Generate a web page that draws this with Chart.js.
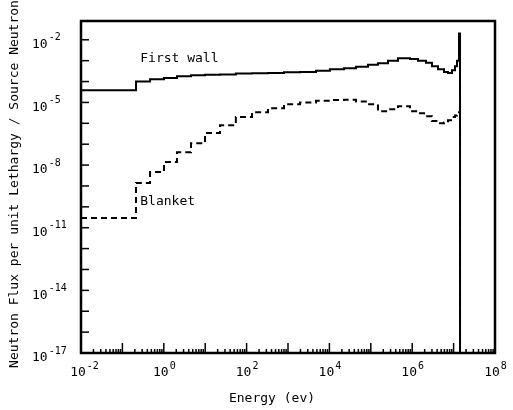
<!DOCTYPE html>
<html>
<head>
<meta charset="utf-8">
<script src="https://cdn.jsdelivr.net/npm/chart.js@4.4.1/dist/chart.umd.min.js"></script>
<style>
  html, body { margin: 0; padding: 0; background: #fff; }
  canvas { display: block; }
</style>
</head>
<body>
<canvas id="fluxChart" width="513" height="410"></canvas>
<script>
// group boundaries (eV), shared by both curves
const energyEdges = [0.01, 0.213, 0.465, 1.01, 2.08, 4.54, 9.9, 22.8, 55, 135, 329, 800,
  1950, 4740, 10300, 22500, 44000, 85600, 149000, 260000, 454000, 885000, 1.38e6,
  2.15e6, 3.0e6, 4.2e6, 5.86e6, 7.3e6, 9.15e6, 1.08e7, 1.21e7, 1.35e7, 1.43e7];

// flux per unit lethargy in each group
const firstWallFlux = [3.8e-5, 1.0e-4, 1.3e-4, 1.5e-4, 1.8e-4, 2.0e-4, 2.1e-4, 2.2e-4,
  2.4e-4, 2.5e-4, 2.6e-4, 2.8e-4, 2.9e-4, 3.3e-4, 3.9e-4, 4.3e-4, 5.1e-4, 6.4e-4,
  7.5e-4, 9.9e-4, 1.3e-3, 1.2e-3, 1.0e-3, 7.9e-4, 5.4e-4, 3.9e-4, 2.9e-4, 2.6e-4,
  3.5e-4, 5.4e-4, 1.0e-3, 2.0e-2];
const blanketFlux = [2.9e-11, 1.4e-9, 4.6e-9, 1.4e-8, 4.1e-8, 1.1e-7, 3.4e-7, 8.1e-7,
  2.0e-6, 3.4e-6, 5.3e-6, 8.2e-6, 1.0e-5, 1.2e-5, 1.3e-5, 1.35e-5, 1.1e-5, 8.2e-6,
  3.8e-6, 4.7e-6, 6.6e-6, 3.8e-6, 3.0e-6, 2.2e-6, 1.3e-6, 1.0e-6, 1.1e-6, 1.4e-6,
  2.0e-6, 2.4e-6, 3.0e-6, 3.4e-6];

const xDecades = [-2, -1, 0, 1, 2, 3, 4, 5, 6, 7, 8];
const xLabelDecades = [-2, 0, 2, 4, 6, 8];
const yDecades = [-17, -16, -15, -14, -13, -12, -11, -10, -9, -8, -7, -6, -5, -4, -3, -2];
const yLabelDecades = [-17, -14, -11, -8, -5, -2];
const yMin = 1e-17;
const yMax = Math.pow(10, -1.1);

const mono = '"DejaVu Sans Mono", "Liberation Mono", monospace';

function toSteps(values) {
  const pts = values.map((v, i) => ({ x: energyEdges[i], y: v }));
  pts.push({ x: energyEdges[energyEdges.length - 1], y: yMin });
  return pts;
}

function drawPower(ctx, exp, x, y, align) {
  ctx.font = '13px ' + mono;
  const base = '10';
  const ex = String(exp).replace('-', '-');
  const wBase = ctx.measureText(base).width;
  ctx.font = '10px ' + mono;
  const wExp = ctx.measureText(ex).width;
  let left = align === 'left' ? x : x - wBase / 2;
  ctx.textBaseline = 'middle';
  ctx.textAlign = 'left';
  ctx.font = '13px ' + mono;
  ctx.fillText(base, left, y);
  ctx.font = '10px ' + mono;
  ctx.fillText(ex, left + wBase + 1, y - 7);
}

const framePlugin = {
  id: 'framePlugin',
  afterDraw(chart) {
    const ctx = chart.ctx;
    const a = chart.chartArea;
    const xs = chart.scales.x;
    const ys = chart.scales.y;
    ctx.save();
    ctx.strokeStyle = '#000';
    ctx.fillStyle = '#000';

    // x ticks, inside
    ctx.lineWidth = 1.5;
    xDecades.forEach(d => {
      for (let m = 1; m < 10; m++) {
        if (d === 8 && m > 1) break;
        const px = xs.getPixelForValue(m * Math.pow(10, d));
        const len = m === 1 ? 10 : 4;
        ctx.beginPath();
        ctx.moveTo(px, a.bottom);
        ctx.lineTo(px, a.bottom - len);
        ctx.stroke();
      }
    });
    // y ticks, inside
    yDecades.forEach(d => {
      const py = ys.getPixelForValue(Math.pow(10, d));
      ctx.beginPath();
      ctx.moveTo(a.left, py);
      ctx.lineTo(a.left + 8, py);
      ctx.stroke();
    });

    // frame
    ctx.lineWidth = 2.5;
    ctx.strokeRect(a.left, a.top, a.right - a.left, a.bottom - a.top);

    // tick labels
    xLabelDecades.forEach(d => {
      const px = xs.getPixelForValue(Math.pow(10, d));
      drawPower(ctx, d, px - 3, 373, 'center');
    });
    yLabelDecades.forEach(d => {
      const py = ys.getPixelForValue(Math.pow(10, d));
      drawPower(ctx, d, 32, py + 5, 'left');
    });

    // axis titles
    ctx.font = '13px ' + mono;
    ctx.textAlign = 'center';
    ctx.textBaseline = 'middle';
    ctx.fillText('Energy (ev)', 272, 399);
    ctx.save();
    ctx.translate(15, 184);
    ctx.rotate(-Math.PI / 2);
    ctx.fillText('Neutron Flux per unit Lethargy / Source Neutron', 0, 0);
    ctx.restore();

    // curve labels
    ctx.textAlign = 'left';
    ctx.fillText('First wall', xs.getPixelForValue(0.27), ys.getPixelForValue(1.2e-3));
    ctx.fillText('Blanket', xs.getPixelForValue(0.27), ys.getPixelForValue(1.7e-10));
    ctx.restore();
  }
};

new Chart(document.getElementById('fluxChart'), {
  type: 'line',
  data: {
    datasets: [
      {
        label: 'First wall',
        data: toSteps(firstWallFlux),
        stepped: 'before',
        borderColor: '#000',
        borderWidth: 2,
        pointRadius: 0,
        fill: false,
      },
      {
        label: 'Blanket',
        data: toSteps(blanketFlux),
        stepped: 'before',
        borderColor: '#000',
        borderWidth: 2,
        borderDash: [6, 4],
        pointRadius: 0,
        fill: false,
      },
    ],
  },
  options: {
    responsive: false,
    devicePixelRatio: 1,
    animation: false,
    layout: { padding: { left: 0, right: 18, top: 21, bottom: 0 } },
    plugins: { legend: { display: false }, tooltip: { enabled: false } },
    scales: {
      x: {
        type: 'logarithmic',
        min: 0.01,
        max: 1e8,
        grid: { display: false },
        border: { display: false },
        ticks: { display: false },
        afterFit: (scale) => { scale.height = 57; },
      },
      y: {
        type: 'logarithmic',
        min: yMin,
        max: yMax,
        grid: { display: false },
        border: { display: false },
        ticks: { display: false },
        afterFit: (scale) => { scale.width = 81; },
      },
    },
  },
  plugins: [framePlugin],
});
</script>
</body>
</html>
